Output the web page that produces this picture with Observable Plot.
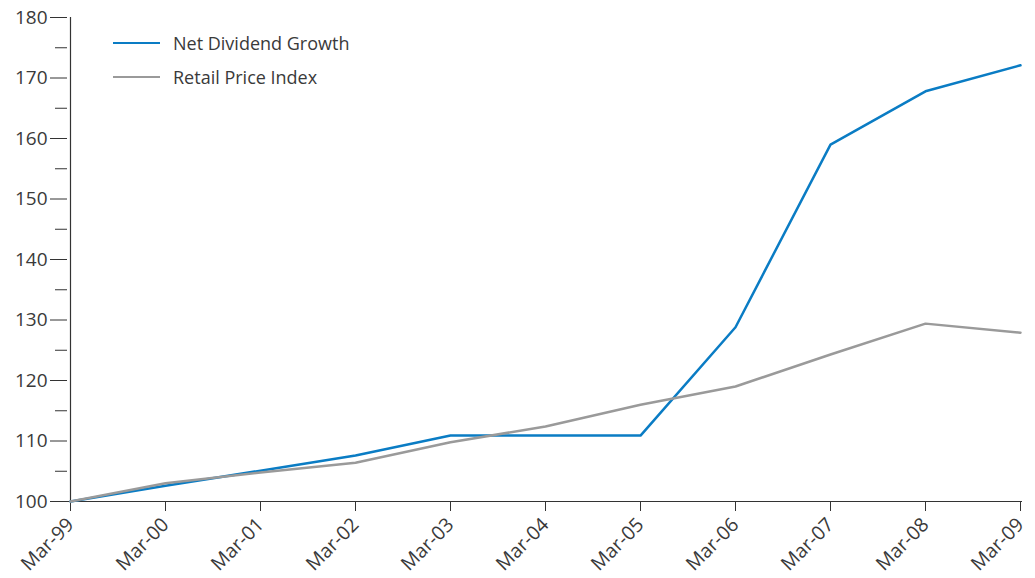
<!DOCTYPE html>
<html>
<head>
<meta charset="utf-8">
<script src="https://cdn.jsdelivr.net/npm/d3@7"></script>
<script src="https://cdn.jsdelivr.net/npm/@observablehq/plot@0.6"></script>
<style>
  html, body { margin: 0; padding: 0; background: #fff; }
  #wrap { position: relative; width: 1035px; height: 578px; font-family: "Open Sans", sans-serif; }
  .legend { position: absolute; left: 113px; top: 26px; font-size: 18px; color: #3a3a3a; }
  .legend div { display: flex; align-items: center; height: 34px; }
  .legend span.sw { display: inline-block; width: 47px; height: 2.5px; margin-right: 13px; }
</style>
</head>
<body>
<div id="wrap"></div>
<script>
const dates = ["Mar-99","Mar-00","Mar-01","Mar-02","Mar-03","Mar-04","Mar-05","Mar-06","Mar-07","Mar-08","Mar-09"];
const netDividendGrowth = [100, 102.6, 105.1, 107.6, 110.9, 110.9, 110.9, 128.8, 159.0, 167.8, 172.1];
const retailPriceIndex = [100, 103.0, 104.8, 106.4, 109.8, 112.4, 116.0, 119.0, 124.3, 129.4, 127.9];
const seriesNames = ["Net Dividend Growth", "Retail Price Index"];
const seriesColors = ["#0a7cc4", "#9a9a9a"];
const yMajor = [100, 110, 120, 130, 140, 150, 160, 170, 180];
const yMinor = [105, 115, 125, 135, 145, 155, 165, 175];

const data = [];
dates.forEach((d, i) => {
  data.push({date: d, value: netDividendGrowth[i], series: seriesNames[0]});
  data.push({date: d, value: retailPriceIndex[i], series: seriesNames[1]});
});

const axisColor = "#333";
const chart = Plot.plot({
  width: 1035,
  height: 578,
  marginLeft: 67,
  marginRight: 13,
  marginTop: 17,
  marginBottom: 77,
  style: {fontFamily: "Open Sans, sans-serif", fontSize: "18px", color: "#3a3a3a", background: "#fff"},
  x: {type: "point", domain: dates, padding: 0},
  y: {domain: [100, 180]},
  color: {domain: seriesNames, range: seriesColors},
  marks: [
    Plot.axisY({ticks: yMinor, tickSize: 12, tickFormat: () => "", stroke: axisColor, strokeOpacity: 1, label: null}),
    Plot.axisY({ticks: yMajor, tickSize: 17, tickPadding: 3, stroke: axisColor, strokeOpacity: 1, label: null, fontSize: 19}),
    Plot.axisX({tickSize: 10, tickRotate: -45, tickPadding: 10, stroke: axisColor, strokeOpacity: 1, label: null, fontSize: 19.5}),
    Plot.ruleX([dates[0]], {stroke: axisColor, strokeWidth: 1.2}),
    Plot.ruleY([100], {stroke: axisColor, strokeWidth: 1.2}),
    Plot.line(data, {x: "date", y: "value", z: "series", stroke: "series", strokeWidth: 2.5})
  ]
});

const wrap = document.getElementById("wrap");
wrap.appendChild(chart);
const legend = document.createElement("div");
legend.className = "legend";
seriesNames.forEach((name, i) => {
  const row = document.createElement("div");
  const sw = document.createElement("span");
  sw.className = "sw";
  sw.style.background = seriesColors[i];
  row.appendChild(sw);
  row.appendChild(document.createTextNode(name));
  legend.appendChild(row);
});
wrap.appendChild(legend);
</script>
</body>
</html>
